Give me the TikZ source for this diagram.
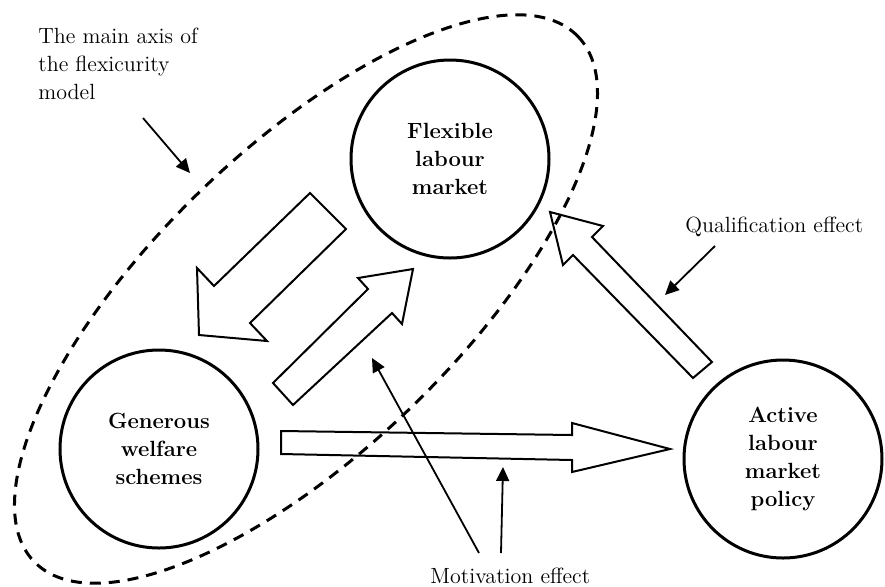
\documentclass[tikz,border=0pt]{standalone}
\usetikzlibrary{arrows.meta}
\newcommand{\lbf}{\fontsize{11}{14}\selectfont}

\tikzset{
  circ/.style={circle, draw, line width=1.5pt, minimum size=99pt, inner sep=0pt,
    align=center, font=\bfseries\lbf},
  blk/.style={draw, line width=1pt, line join=miter},
  ptr/.style={draw, line width=0.9pt, -{Triangle[length=7pt,width=6.5pt]}},
  lbl/.style={align=left, font=\lbf, inner sep=0pt},
}

\begin{document}
\begin{tikzpicture}[x=0.5pt, y=0.5pt]
  \useasboundingbox (0,0) rectangle (885,-586);
  % dashed main axis
  \draw[line width=1.5pt, dash pattern=on 5.5pt off 4pt,
    rotate around={44:(306,-299)}] (306,-299) ellipse [x radius=378, y radius=151];
  \node[circ] (flex) at (450,-159) {Flexible\\labour\\market};
  \node[circ] (welf) at (159,-449) {Generous\\welfare\\schemes};
  \node[circ] (almp) at (783,-459) {Active\\labour\\market\\policy};
  % block arrows
  \draw[blk] (310,-193) -- (346,-229) -- (250,-323) -- (267,-341) -- (199,-335)
    -- (197,-268) -- (214,-286) -- cycle;
  \draw[blk] (273,-383) -- (293,-405) -- (392,-313) -- (402,-324) -- (413,-269)
    -- (358,-278) -- (368,-289) -- cycle;
  \draw[blk] (281,-431) -- (572,-435) -- (572,-423) -- (670,-449) -- (572,-472)
    -- (572,-460) -- (281,-454) -- cycle;
  \draw[blk] (693,-378) -- (712,-362) -- (592,-237) -- (603,-226) -- (550,-212)
    -- (563,-265) -- (573,-255) -- cycle;
  % labels
  \node[lbl, anchor=west] (axis) at (38,-64) {The main axis of\\the flexicurity\\model};
  \node[lbl, anchor=base west] (qual) at (685,-232) {Qualification effect};
  \node[lbl, anchor=base west] (motiv) at (430,-583) {Motivation effect};
  \coordinate (axis-from) at (143,-118);
  \coordinate (axis-to) at (190,-173);
  \coordinate (qual-from) at (715,-246);
  \coordinate (qual-to) at (665,-295);
  \coordinate (motiv-from1) at (479,-553);
  \coordinate (motiv-to1) at (372,-358);
  \coordinate (motiv-from2) at (501,-553);
  \coordinate (motiv-to2) at (503,-467);
  \draw[ptr] (axis-from) -- (axis-to);
  \draw[ptr] (qual-from) -- (qual-to);
  \draw[ptr] (motiv-from1) -- (motiv-to1);
  \draw[ptr] (motiv-from2) -- (motiv-to2);
\end{tikzpicture}
\end{document}
